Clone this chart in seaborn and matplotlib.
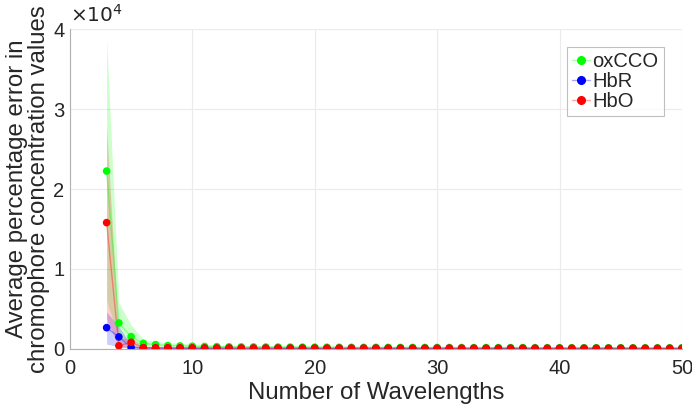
import numpy as np
import pandas as pd
import matplotlib
matplotlib.use("Agg")
import matplotlib.pyplot as plt
import seaborn as sns

# Valori (numero di lunghezze d'onda 3..50)
wavelengths = list(range(3, 51))

oxcco_mean = [22250, 3250, 1540, 700, 540, 420, 380, 340, 310, 290, 270, 260,
              250, 240, 235, 230, 225, 220, 215, 210, 205, 200, 200, 195,
              190, 190, 185, 185, 180, 180, 175, 175, 170, 170, 170, 165,
              165, 160, 160, 160, 155, 155, 155, 150, 150, 150, 150, 145]
oxcco_low = [6000, 1500, 600, 300, 250, 200, 180, 160, 150, 140, 130, 125,
             120, 115, 110, 110, 105, 105, 100, 100, 100, 95, 95, 95,
             90, 90, 90, 90, 85, 85, 85, 85, 80, 80, 80, 80,
             80, 75, 75, 75, 75, 75, 75, 70, 70, 70, 70, 70]
oxcco_high = [38800, 5800, 3000, 1200, 900, 800, 700, 620, 560, 520, 480, 450,
              430, 410, 395, 380, 370, 360, 350, 340, 330, 325, 320, 315,
              310, 305, 300, 300, 295, 290, 285, 285, 280, 280, 275, 275,
              270, 270, 265, 265, 260, 260, 260, 255, 255, 250, 250, 250]

hbr_mean = [2660, 1500, 200, 120, 100, 90, 85, 80, 80, 75, 75, 70,
            70, 70, 65, 65, 65, 65, 60, 60, 60, 60, 60, 55,
            55, 55, 55, 55, 55, 50, 50, 50, 50, 50, 50, 50,
            50, 50, 45, 45, 45, 45, 45, 45, 45, 45, 45, 45]
hbr_low = [600, 300, 50, 40, 35, 30, 30, 30, 25, 25, 25, 25,
           25, 25, 20, 20, 20, 20, 20, 20, 20, 20, 20, 20,
           20, 20, 20, 20, 20, 15, 15, 15, 15, 15, 15, 15,
           15, 15, 15, 15, 15, 15, 15, 15, 15, 15, 15, 15]
hbr_high = [4600, 2800, 500, 250, 200, 180, 160, 150, 140, 135, 130, 125,
            120, 120, 115, 115, 110, 110, 105, 105, 105, 100, 100, 100,
            100, 95, 95, 95, 95, 90, 90, 90, 90, 90, 90, 85,
            85, 85, 85, 85, 85, 80, 80, 80, 80, 80, 80, 80]

hbo_mean = [15800, 400, 830, 150, 150, 140, 135, 130, 125, 120, 120, 115,
            115, 110, 110, 110, 105, 105, 105, 100, 100, 100, 100, 100,
            95, 95, 95, 95, 95, 90, 90, 90, 90, 90, 90, 90,
            85, 85, 85, 85, 85, 85, 85, 85, 80, 80, 80, 80]
hbo_low = [3800, 150, 250, 60, 60, 55, 55, 50, 50, 50, 50, 45,
           45, 45, 45, 45, 40, 40, 40, 40, 40, 40, 40, 40,
           35, 35, 35, 35, 35, 35, 35, 35, 35, 35, 35, 35,
           30, 30, 30, 30, 30, 30, 30, 30, 30, 30, 30, 30]
hbo_high = [27800, 1200, 1500, 300, 280, 260, 250, 240, 230, 220, 215, 210,
            205, 200, 195, 195, 190, 185, 185, 180, 180, 175, 175, 175,
            170, 170, 170, 165, 165, 165, 160, 160, 160, 160, 155, 155,
            155, 155, 150, 150, 150, 150, 150, 145, 145, 145, 145, 145]

series = [
    ("oxCCO", oxcco_mean, oxcco_low, oxcco_high, (0, 1, 0)),
    ("HbR", hbr_mean, hbr_low, hbr_high, (0, 0, 1)),
    ("HbO", hbo_mean, hbo_low, hbo_high, (1, 0, 0)),
]

sns.set_style("white")
plt.rcParams['font.family'] = ['Liberation Sans', 'DejaVu Sans']

fig = plt.figure(figsize=(6.92, 4.11), dpi=100)
ax = fig.add_axes([0.101, 0.151, 0.8845, 0.778])

for name, mean, low, high, col in series:
    df = pd.DataFrame({"wl": wavelengths, "val": mean})
    ax.fill_between(wavelengths, low, high, color=col, alpha=0.2, linewidth=0)
    sns.lineplot(data=df, x="wl", y="val", ax=ax, color=col, alpha=0.35,
                 linewidth=1, label="_nolegend_")
    sns.scatterplot(data=df, x="wl", y="val", ax=ax, color=col, s=30,
                    edgecolor="none", zorder=3, label="_nolegend_")

# legenda in stile MATLAB (linea + marker)
handles = []
for _, _, _, _, c in series:
    h = plt.Line2D([], [], color=(*c, 0.35), marker="o", markersize=5.5,
                   markerfacecolor=c, markeredgecolor=c, linewidth=1)
    handles.append(h)
leg = ax.legend(handles, [s[0] for s in series], loc="upper right",
                bbox_to_anchor=(0.97, 0.943), fontsize=14.5, frameon=True,
                fancybox=False, edgecolor="#b0b0b0", handlelength=0.9,
                handletextpad=0.1, borderpad=0.25, labelspacing=0.05,
                borderaxespad=0)
leg.get_frame().set_linewidth(0.8)

ax.set_xlim(0, 50)
ax.set_ylim(0, 40000)
ax.set_xticks([0, 10, 20, 30, 40, 50])
ax.set_yticks([0, 10000, 20000, 30000, 40000])
ax.set_yticklabels(["0", "1", "2", "3", "4"])
ax.tick_params(direction="in", length=3, color="#a0a0a0", labelsize=14.5,
               labelcolor="#262626")
ax.tick_params(axis="x", pad=7)
ax.tick_params(axis="y", pad=4)
ax.grid(True, color="#ebebeb", linewidth=0.8)
for side in ["top", "right"]:
    ax.spines[side].set_visible(False)
for side in ["left", "bottom"]:
    ax.spines[side].set_color("#b0b0b0")
    ax.spines[side].set_linewidth(0.8)

ax.text(0.0, 1.01, r"$\times 10^4$", transform=ax.transAxes, fontsize=14.5,
        color="#262626", ha="left", va="bottom")
ax.set_xlabel("Number of Wavelengths", fontsize=17.3, color="#262626", labelpad=3)
ax.set_ylabel("Average percentage error in\nchromophore concentration values",
              fontsize=17.3, color="#262626", labelpad=2, linespacing=1.0)

fig.savefig("out.png", dpi=100)
